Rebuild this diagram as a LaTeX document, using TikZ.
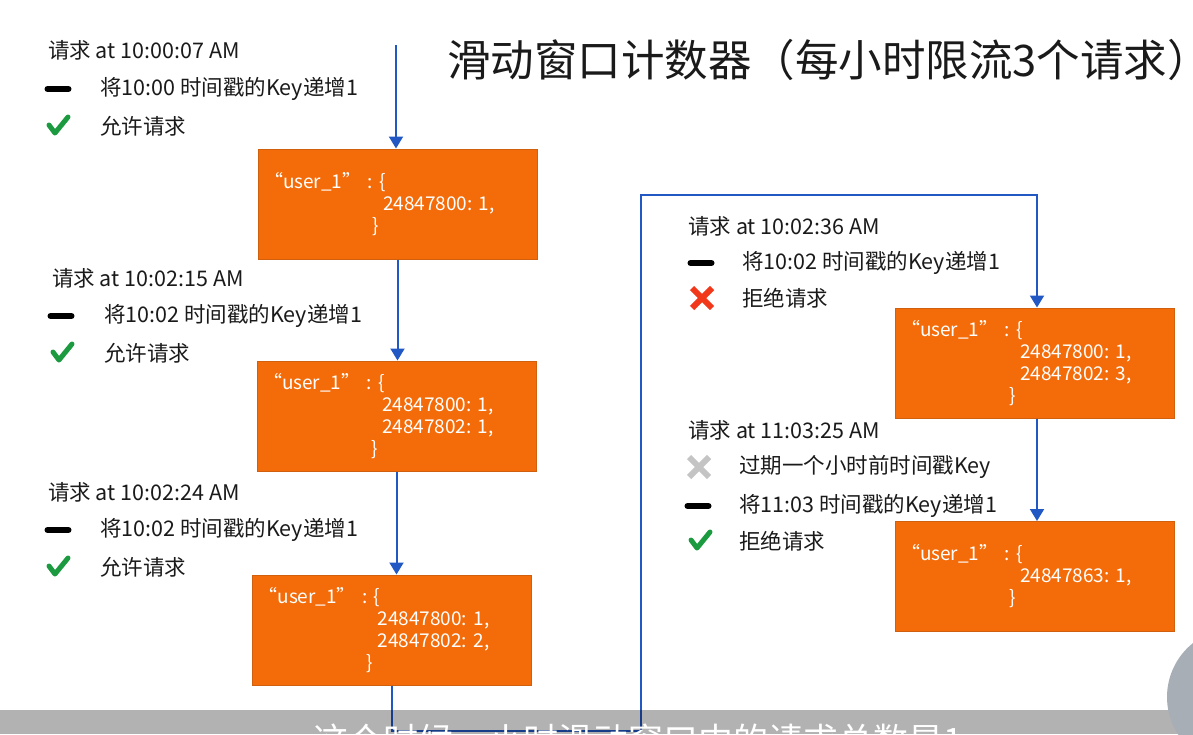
\documentclass[tikz,border=0pt]{standalone}
\usepackage{fontspec}
\setmainfont{Noto Sans CJK SC}
\usetikzlibrary{arrows.meta,positioning}
\definecolor{winorange}{HTML}{F46C0A}
\definecolor{winedge}{HTML}{D0600E}
\definecolor{flowblue}{HTML}{2158C4}
\definecolor{okgreen}{HTML}{1B9A40}
\definecolor{nored}{HTML}{F2381A}
\definecolor{expgray}{HTML}{C4C4C4}
\definecolor{avatargray}{HTML}{A7AEB5}
\definecolor{ink}{HTML}{1A1A1A}
\newcommand{\userkey}{\hspace*{-13pt}“user\_1” : \{}
\frenchspacing

\begin{document}
\begin{tikzpicture}[
    x=1pt, y=-1pt,
    text=ink,
    req/.style={anchor=west, inner sep=0pt, font=\fontsize{21.5}{25}\selectfont},
    title/.style={anchor=west, inner sep=0pt, font=\fontsize{43.5}{50}\selectfont},
    window/.style={
        draw=winedge,
        fill=winorange,
        line width=1pt,
        minimum width=279pt,
        minimum height=110pt,
        text width=241pt,
        inner xsep=19pt,
        inner ysep=0pt,
        align=left,
        text=white,
        font=\fontsize{19}{22}\selectfont
    },
    flow/.style={-{Triangle[length=12pt,width=14pt]}, line width=2pt, draw=flowblue},
    dashmark/.pic={\draw[line width=6pt, line cap=round, draw=black] (-10.5,0) -- (10.5,0);},
    okmark/.pic={\draw[line width=5pt, line cap=round, line join=round, draw=okgreen]
        (-9,-1) -- (-3,7) -- (10,-9);},
    nomark/.pic={\draw[line width=6pt, draw=nored] (-10,-10) -- (10,10) (-10,10) -- (10,-10);},
    expmark/.pic={\draw[line width=6pt, draw=expgray] (-10,-10) -- (10,10) (-10,10) -- (10,-10);}
]
\useasboundingbox (0,0) rectangle (1193,734);

\node[title] (heading) at (447,60) {滑动窗口计数器（每小时限流3个请求）};

% left column
\node[req] (req1) at (48,50) {请求 at 10:00:07 AM};
\pic at (58,89) {dashmark};
\node[req] (inc1) at (100,89) {将10:00 时间戳的Key递增1};
\pic at (58,126) {okmark};
\node[req] (res1) at (100,126) {允许请求};

\node[req] (req2) at (52,278) {请求 at 10:02:15 AM};
\pic at (61,316) {dashmark};
\node[req] (inc2) at (104,316) {将10:02 时间戳的Key递增1};
\pic at (62,353) {okmark};
\node[req] (res2) at (104,353) {允许请求};

\node[req] (req3) at (48,492) {请求 at 10:02:24 AM};
\pic at (58,530) {dashmark};
\node[req] (inc3) at (100,530) {将10:02 时间戳的Key递增1};
\pic at (58,567) {okmark};
\node[req] (res3) at (100,567) {允许请求};

% right column
\node[req] (req4) at (688,226) {请求 at 10:02:36 AM};
\pic at (701,263) {dashmark};
\node[req] (inc4) at (742,263) {将10:02 时间戳的Key递增1};
\pic at (702,298) {nomark};
\node[req] (res4) at (742,298) {拒绝请求};

\node[req] (req5) at (688,430) {请求 at 11:03:25 AM};
\pic at (699,467) {expmark};
\node[req] (exp5) at (739,467) {过期一个小时前时间戳Key};
\pic at (698,506) {dashmark};
\node[req] (inc5) at (739,506) {将11:03 时间戳的Key递增1};
\pic at (700,541) {okmark};
\node[req] (res5) at (739,541) {拒绝请求};

\node[window] (win1) at (397.5,204) {\userkey\\\hspace*{106pt}24847800: 1,\\\hspace*{95pt}\}};
\node[window] (win2) at (396.5,416) {\userkey\\\hspace*{106pt}24847800: 1,\\\hspace*{106pt}24847802: 1,\\\hspace*{95pt}\}};
\node[window] (win3) at (392,630) {\userkey\\\hspace*{106pt}24847800: 1,\\\hspace*{106pt}24847802: 2,\\\hspace*{95pt}\}};
\node[window] (win4) at (1034.5,363) {\userkey\\\hspace*{106pt}24847800: 1,\\\hspace*{106pt}24847802: 3,\\\hspace*{95pt}\}};
\node[window] (win5) at (1034.5,576.5) {\userkey\\\hspace*{106pt}24847863: 1,\\\hspace*{95pt}\}};

\coordinate (entry) at (396,45);
\coordinate (low) at (392,731);
\coordinate (rise) at (641,195);
\coordinate (over) at (1037,195);

\draw[flow] (entry) -- (entry |- win1.north);
\draw[flow] (win1.south) -- (win1.south |- win2.north);
\draw[flow] (win2.south) -- (win2.south |- win3.north);
\draw[flow] (win3.south) -- (low) -| (rise) -- (over) -- (over |- win4.north);
\draw[flow] (over |- win4.south) -- (over |- win5.north);

% player overlay
\fill[fill=black, fill opacity=0.3] (0,710) rectangle (1193,734);
\fill[fill=avatargray] (1236,697) circle[radius=69];
\node[anchor=west, inner sep=0pt, text=white, font=\fontsize{35}{40}\selectfont] (caption) at (313,740) {这个时候一小时滑动窗口中的请求总数是1};
\end{tikzpicture}
\end{document}
